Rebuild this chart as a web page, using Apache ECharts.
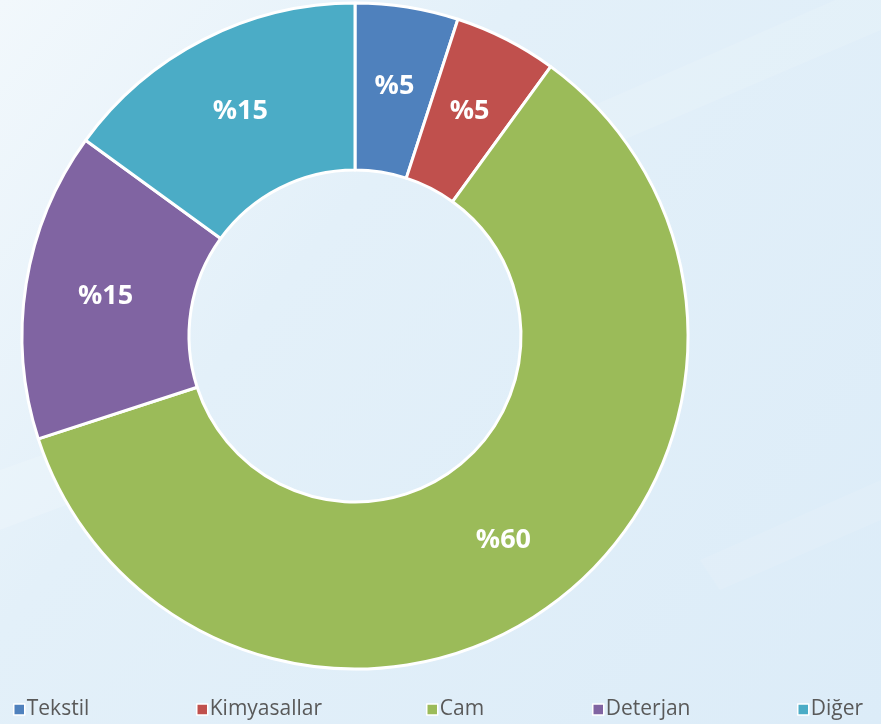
<!DOCTYPE html>
<html>
<head>
<meta charset="utf-8">
<script src="https://cdn.jsdelivr.net/npm/echarts@6/dist/echarts.min.js"></script>
<style>
html, body { margin: 0; padding: 0; }
#main { width: 881px; height: 724px; }
</style>
</head>
<body>
<div id="main"></div>
<script>
// Sektör dağılımı halka grafiği
var categories = ['Tekstil', 'Kimyasallar', 'Cam', 'Deterjan', 'Diğer'];
var values = [5, 5, 60, 15, 15];
var colors = ['#4F81BD', '#C0504D', '#9BBB59', '#8064A2', '#4BACC6'];
var legendLeft = [8, 191, 421, 587, 792];

var myChart = echarts.init(document.getElementById('main'));

var pieData = categories.map(function (c, i) {
    return { name: c, value: values[i], itemStyle: { color: colors[i] } };
});

var legends = categories.map(function (c, i) {
    return {
	data: [c],
	left: legendLeft[i],
	top: 694,
	icon: 'rect',
	itemWidth: 11,
	itemHeight: 11,
	itemGap: 6,
	selectedMode: false,
	itemStyle: { borderColor: '#ffffff', borderWidth: 1.5 },
	textStyle: {
	    color: '#595959',
	    fontSize: 21,
	    fontFamily: 'Open Sans',
	    padding: [0, 0, 0, -3]
	}
    };
});

var option = {
    backgroundColor: {
	type: 'linear', x: 0, y: 0, x2: 1, y2: 1,
	colorStops: [
	    { offset: 0, color: '#f2f8fc' },
	    { offset: 0.35, color: '#e3f0f9' },
	    { offset: 1, color: '#dcecf8' }
	]
    },
    graphic: [
	{ type: 'polygon', silent: true, z: -1,
	  shape: { points: [[560, 120], [881, -20], [881, 30], [600, 150]] },
	  style: { fill: 'rgba(255,255,255,0.12)' } },
	{ type: 'polygon', silent: true, z: -1,
	  shape: { points: [[0, 470], [140, 420], [160, 470], [0, 530]] },
	  style: { fill: 'rgba(255,255,255,0.15)' } },
	{ type: 'polygon', silent: true, z: -1,
	  shape: { points: [[700, 560], [881, 480], [881, 520], [720, 590]] },
	  style: { fill: 'rgba(255,255,255,0.1)' } }
    ],
    legend: legends,
    series: [ {
	name: 'Dağılım',
	type: 'pie',
	center: [355, 336],
	radius: [166, 333],
	startAngle: 90,
	clockwise: true,
	avoidLabelOverlap: false,
	itemStyle: { borderColor: '#ffffff', borderWidth: 3 },
	label: {
	    show: true,
	    position: 'inside',
	    formatter: function (p) { return '%' + p.value; },
	    color: '#ffffff',
	    fontSize: 27,
	    fontWeight: 'bold',
	    fontFamily: 'Open Sans'
	},
	labelLine: { show: false },
	emphasis: { disabled: true },
	data: pieData
    } ]
};
myChart.setOption(option);
</script>
</body>
</html>
